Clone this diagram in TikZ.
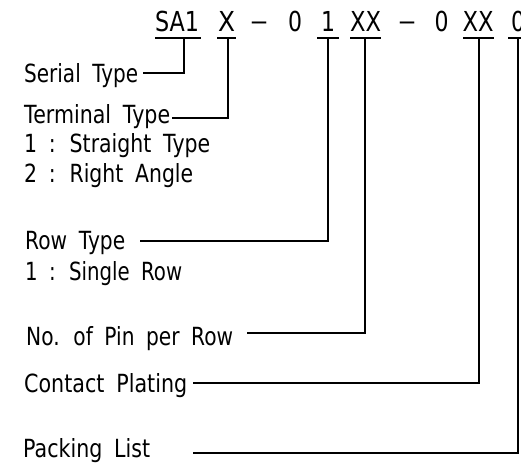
\documentclass[tikz,border=0pt]{standalone}
\usepackage{fontspec}
\usepackage{graphicx}
\setmainfont[WordSpace=1.8]{DejaVu Sans}
\newcommand\fitw[2]{\resizebox{#1}{\height}{#2}}
\begin{document}
\begin{tikzpicture}[x=1pt,y=-1pt,
  lbl/.style={anchor=base west,inner sep=0pt,font=\fontsize{25}{30}\selectfont},
  code/.style={anchor=base,inner sep=0pt,font=\fontsize{27.5}{32}\selectfont},
  conn/.style={line width=1.5pt}]
\clip (0,0) rectangle (521,464);
% top code line
\node[code] (sa1) at (177,31) {\fitw{44pt}{SA1}};
\node[code] (tx) at (226.5,31) {\fitw{17pt}{X}};
\node[code] (d1) at (259,30) {\fitw{18pt}{–}};
\node[code] (z1) at (295,31) {\fitw{14pt}{0}};
\node[code] (one) at (328,31) {\fitw{14pt}{1}};
\node[code] (xx1) at (365.5,31) {\fitw{31pt}{XX}};
\node[code] (d2) at (407,30) {\fitw{18pt}{–}};
\node[code] (z2) at (441.5,31) {\fitw{14pt}{0}};
\node[code] (xx2) at (478,31) {\fitw{31pt}{XX}};
\node[code] (z3) at (518,31) {\fitw{14pt}{0}};
% underlines
\draw[conn] (155,38) -- (201,38);
\draw[conn] (217,38) -- (236,38);
\draw[conn] (317,38) -- (339,38);
\draw[conn] (350,38) -- (381,38);
\draw[conn] (463,38) -- (494,38);
\draw[conn] (508,38) -- (530,38);
\coordinate (j1) at (184,38);
\coordinate (j2) at (228,38);
\coordinate (j3) at (328,38);
\coordinate (j4) at (365,38);
\coordinate (j5) at (479,38);
\coordinate (j6) at (518,38);
% labels
\node[lbl] (serial) at (24,82) {\fitw{114pt}{Serial Type}};
\node[lbl] (term) at (24,123) {\fitw{146pt}{Terminal Type}};
\node[lbl] (t1) at (24,152) {\fitw{186pt}{1 : Straight Type}};
\node[lbl] (t2) at (24,182) {\fitw{169pt}{2 : Right Angle}};
\node[lbl] (row) at (25,249) {\fitw{100pt}{Row Type}};
\node[lbl] (r1) at (25,280) {\fitw{157pt}{1 : Single Row}};
\node[lbl] (pin) at (26,345) {\fitw{207pt}{No. of Pin per Row}};
\node[lbl] (plat) at (24,392) {\fitw{163pt}{Contact Plating}};
\node[lbl] (pack) at (23,457) {\fitw{127pt}{Packing List}};
% connector start points
\coordinate (c1) at (143,73);
\coordinate (c2) at (172,118);
\coordinate (c3) at (140,241);
\coordinate (c4) at (247,333);
\coordinate (c5) at (193,383);
\coordinate (c6) at (193,453);
\draw[conn] (c1) -| (j1);
\draw[conn] (c2) -| (j2);
\draw[conn] (c3) -| (j3);
\draw[conn] (c4) -| (j4);
\draw[conn] (c5) -| (j5);
\draw[conn] (c6) -| (j6);
\end{tikzpicture}
\end{document}
